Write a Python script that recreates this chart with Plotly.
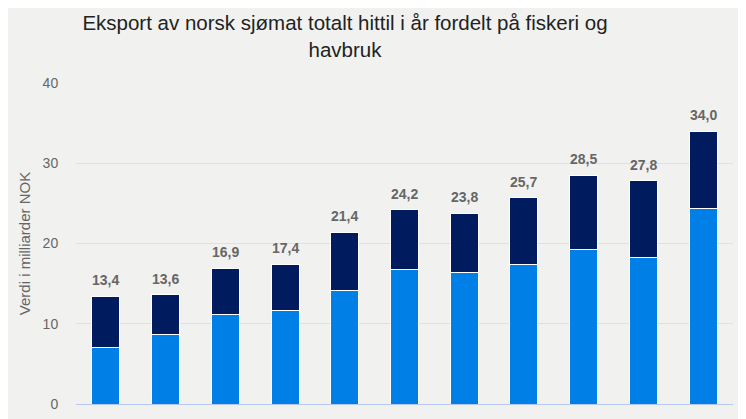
import plotly.graph_objects as go

years = ["2012", "2013", "2014", "2015", "2016", "2017", "2018", "2019", "2020", "2021", "2022"]
havbruk = [7.1, 8.6, 11.2, 11.6, 14.2, 16.7, 16.4, 17.4, 19.3, 18.3, 24.3]
totals = [13.4, 13.6, 16.9, 17.4, 21.4, 24.2, 23.8, 25.7, 28.5, 27.8, 34.0]
fiskeri = [round(t - h, 1) for t, h in zip(totals, havbruk)]
total_labels = [f"{t:.1f}".replace(".", ",") for t in totals]

FONT = "Liberation Sans, Arial, sans-serif"
W, H = 746, 419
OFF = 8  # page offset observed in rendering

fig = go.Figure()
fig.add_trace(go.Bar(x=years, y=havbruk, name="Havbruk",
                     marker=dict(color="#0080e6", line=dict(color="white", width=1))))
fig.add_trace(go.Bar(x=years, y=fiskeri, name="Fiskeri",
                     marker=dict(color="#001b5e", line=dict(color="white", width=1))))

for i, (t, lab) in enumerate(zip(totals, total_labels)):
    fig.add_annotation(x=i, y=t, text=lab, showarrow=False, yanchor="bottom", yshift=6,
                       font=dict(family=FONT, size=14, color="#666666", weight="bold"))

fig.update_layout(
    width=W, height=H,
    barmode="stack", bargap=0.53,
    showlegend=False,
    paper_bgcolor="#f1f2f0", plot_bgcolor="#f1f2f0",
    margin=dict(l=76 - OFF, r=W - (733 - OFF), t=83 - OFF, b=H - (404 - OFF)),
    font=dict(family=FONT, color="#666666"),
    title=dict(text="Eksport av norsk sjømat totalt hittil i år fordelt på fiskeri og<br>havbruk",
               x=(345 - OFF) / W, xanchor="center", y=1 - 22 / H, yanchor="middle",
               font=dict(family=FONT, size=20.5, color="#222222")),
)
fig.update_xaxes(type="category", showline=True, linecolor="#b8c8f0", linewidth=1,
                 automargin=False, ticks="outside", ticklen=9, tickcolor="rgba(0,0,0,0)",
                 tickfont=dict(size=13, color="#666666"), showgrid=False)
fig.update_yaxes(range=[0, 40], dtick=10, showgrid=True, gridcolor="#e0e0e0",
                 zeroline=False, ticks="outside", ticklen=14, tickcolor="rgba(0,0,0,0)",
                 automargin=False,
                 tickfont=dict(size=14, color="#666666"),
                 title=dict(text="Verdi i milliarder NOK", font=dict(size=15, color="#666666"),
                            standoff=8))

fig.write_html("out.html")
